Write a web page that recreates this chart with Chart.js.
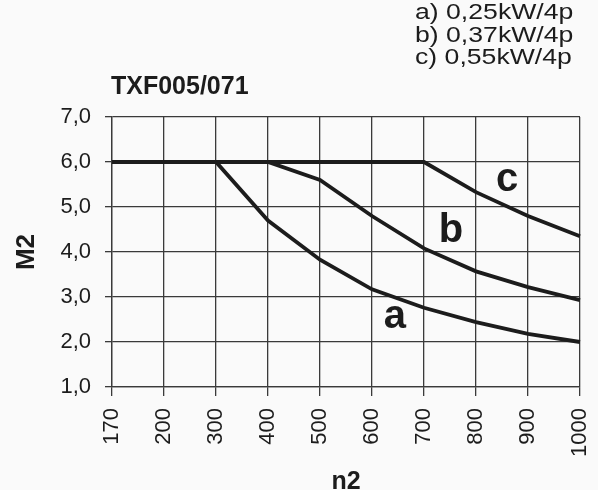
<!DOCTYPE html>
<html>
<head>
<meta charset="utf-8">
<script src="https://cdn.jsdelivr.net/npm/chart.js@4"></script>
<style>
  body { margin: 0; background: #fafafa; }
  canvas { display: block; }
</style>
</head>
<body>
<canvas id="torqueChart" width="598" height="490"></canvas>
<script>
// n2 (giri/min) e M2 per i tre motori
const speeds = ['170', '200', '300', '400', '500', '600', '700', '800', '900', '1000'];
const torqueA = [6.0, 6.0, 6.0, 4.7, 3.83, 3.17, 2.76, 2.44, 2.18, 2.0];
const torqueB = [6.0, 6.0, 6.0, 6.0, 5.6, 4.8, 4.08, 3.57, 3.22, 2.93];
const torqueC = [6.0, 6.0, 6.0, 6.0, 6.0, 6.0, 6.0, 5.33, 4.8, 4.35];
const curveNames = ['a', 'b', 'c'];
const motorLabels = ['a) 0,25kW/4p', 'b) 0,37kW/4p', 'c) 0,55kW/4p'];
const chartTitle = 'TXF005/071';

const ink = '#1c1c1c';
const gridInk = '#3a3a3a';
const fontFamily = '"Liberation Sans", Arial, sans-serif';

// lettere sulle curve + titolo + legenda testuale
const textPlugin = {
  id: 'textPlugin',
  afterDraw(chart) {
    const ctx = chart.ctx;
    const x = chart.scales.x;
    const y = chart.scales.y;
    ctx.save();
    ctx.fillStyle = ink;
    ctx.textBaseline = 'middle';

    ctx.font = 'bold 25px ' + fontFamily;
    ctx.textAlign = 'left';
    ctx.fillText(chartTitle, 111, 87);

    // testo un po' allargato come nell'originale
    ctx.font = '22px ' + fontFamily;
    motorLabels.forEach((t, i) => {
      ctx.save();
      ctx.translate(415, 13 + i * 22.5);
      ctx.scale(1.21, 1);
      ctx.fillText(t, 0, 0);
      ctx.restore();
    });

    // posizioni in unita' dati (indice categoria, M2)
    const spots = [[5.44, 2.55], [6.52, 4.47], [7.6, 5.6]];
    ctx.font = 'bold 40px ' + fontFamily;
    ctx.textAlign = 'center';
    curveNames.forEach((n, i) => {
      ctx.fillText(n, x.getPixelForValue(spots[i][0]), y.getPixelForValue(spots[i][1]));
    });
    ctx.restore();
  }
};

const lineStyle = {
  borderColor: ink,
  borderWidth: 3.8,
  pointRadius: 0,
  tension: 0,
  fill: false
};

new Chart(document.getElementById('torqueChart'), {
  type: 'line',
  data: {
    labels: speeds,
    datasets: [
      Object.assign({ label: 'a', data: torqueA }, lineStyle),
      Object.assign({ label: 'b', data: torqueB }, lineStyle),
      Object.assign({ label: 'c', data: torqueC }, lineStyle)
    ]
  },
  options: {
    responsive: false,
    animation: false,
    layout: { padding: { top: 117, right: 18, left: 0, bottom: 0 } },
    plugins: {
      legend: { display: false },
      tooltip: { enabled: false }
    },
    scales: {
      x: {
        offset: false,
        grid: { color: gridInk, lineWidth: 1.3, tickLength: 9 },
        border: { color: gridInk, width: 1.3 },
        ticks: {
          color: ink,
          maxRotation: 90,
          minRotation: 90,
          autoSkip: false,
          padding: 12,
          font: { family: fontFamily, size: 22 }
        },
        title: {
          display: true,
          text: 'n2',
          color: ink,
          padding: { top: 0, bottom: -7 },
          font: { family: fontFamily, size: 25, weight: 'bold' }
        },
        afterFit(scale) {
          scale.height = 103;
          scale.paddingLeft = 0;
          scale.paddingRight = 0;
        }
      },
      y: {
        min: 1,
        max: 7,
        grid: { color: gridInk, lineWidth: 1.3, tickLength: 7 },
        border: { color: gridInk, width: 1.3 },
        ticks: {
          stepSize: 1,
          color: ink,
          padding: 14,
          font: { family: fontFamily, size: 22 },
          callback: v => v.toFixed(1).replace('.', ',')
        },
        title: {
          display: true,
          text: 'M2',
          color: ink,
          padding: { top: 11, bottom: 0 },
          font: { family: fontFamily, size: 26, weight: 'bold' }
        },
        afterFit(scale) { scale.width = 112; }
      }
    }
  },
  plugins: [textPlugin]
});
</script>
</body>
</html>
